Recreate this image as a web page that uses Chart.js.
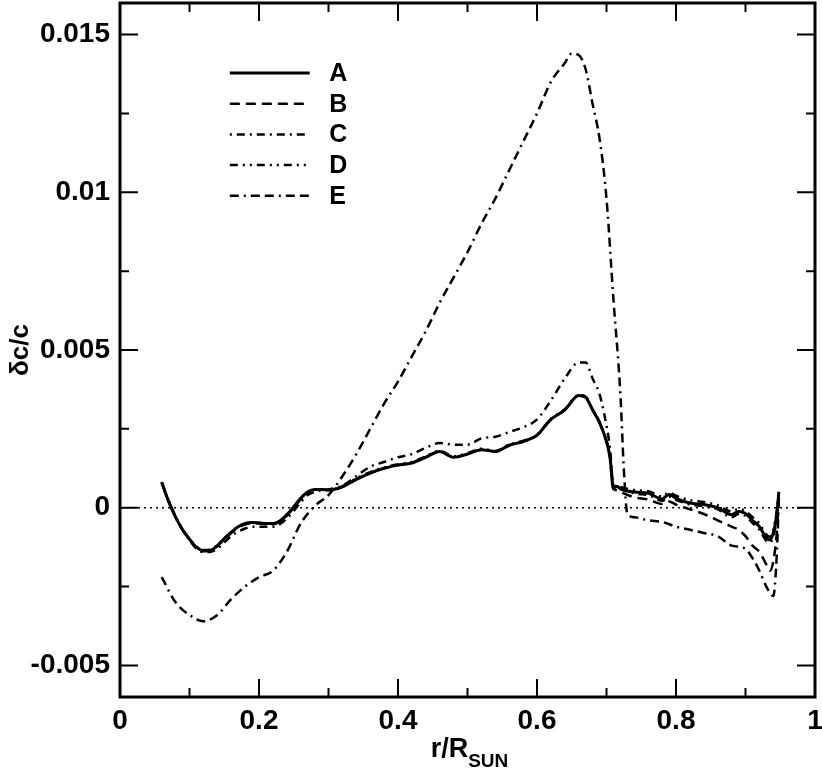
<!DOCTYPE html>
<html>
<head>
<meta charset="utf-8">
<script src="https://cdn.jsdelivr.net/npm/chart.js@4.4.1/dist/chart.umd.min.js"></script>
<style>
  html, body { margin: 0; padding: 0; background: #fff; }
</style>
</head>
<body>
<canvas id="myChart" width="822" height="773"></canvas>
<script>
// radius grid shared by curves A-D
var rAD = [0.06, 0.07, 0.08, 0.09, 0.10, 0.11, 0.12, 0.13, 0.14, 0.15, 0.16, 0.17, 0.18, 0.19, 0.20,
           0.21, 0.22, 0.23, 0.24, 0.25, 0.26, 0.27, 0.28, 0.29, 0.30, 0.32, 0.34, 0.36, 0.38, 0.40,
           0.42, 0.44, 0.46, 0.48, 0.50, 0.52, 0.54, 0.56, 0.58, 0.60, 0.62, 0.64, 0.66, 0.67, 0.68,
           0.69, 0.70, 0.705, 0.71, 0.715, 0.72, 0.74, 0.76, 0.78, 0.79, 0.80, 0.82, 0.84, 0.86, 0.88,
           0.89, 0.90, 0.91, 0.92, 0.93, 0.935, 0.94, 0.945, 0.948];

var seriesA = [0.0008, 0.0002, -0.0003, -0.0007, -0.001, -0.00125, -0.00136, -0.00135, -0.0012, -0.00098,
               -0.00078, -0.0006, -0.0005, -0.00047, -0.00048, -0.0005, -0.0005, -0.00042, -0.00022, 0.00003,
               0.0003, 0.0005, 0.00058, 0.00058, 0.00056, 0.00066, 0.0009, 0.0011, 0.00125, 0.00135,
               0.00142, 0.0016, 0.00178, 0.0016, 0.0017, 0.00184, 0.00178, 0.00198, 0.0021, 0.0023,
               0.0028, 0.0031, 0.00356, 0.0035, 0.0031, 0.0027, 0.0021, 0.0016, 0.0006, 0.00068,
               0.0006, 0.0005, 0.00046, 0.00028, 0.00042, 0.0003, 0.00015, 0.0001, 0.0, -0.00022,
               -0.00012, -0.00018, -0.0004, -0.0006, -0.00095, -0.00102, -0.0008, -0.0002, 0.0005];

var seriesB = [0.0008, 0.0002, -0.0003, -0.0007, -0.001, -0.00127, -0.00138, -0.00136, -0.00122, -0.001,
               -0.0008, -0.00063, -0.00053, -0.0005, -0.0005, -0.00052, -0.00052, -0.00044, -0.00025, 0.0,
               0.00027, 0.00048, 0.00057, 0.00058, 0.00056, 0.00066, 0.0009, 0.0011, 0.00125, 0.00135,
               0.00143, 0.00161, 0.00178, 0.00161, 0.0017, 0.00184, 0.00179, 0.00198, 0.0021, 0.0023,
               0.0028, 0.0031, 0.00355, 0.0035, 0.0031, 0.0027, 0.0021, 0.0016, 0.0006, 0.00055,
               0.0005, 0.00033, 0.00026, 0.00012, 0.0002, 0.0001, -0.00005, -0.0002, -0.0004, -0.0006,
               -0.0007, -0.0009, -0.0012, -0.0014, -0.0018, -0.002, -0.0017, -0.0008, 0.0003];

var seriesC = [0.0008, 0.0002, -0.0003, -0.0007, -0.00102, -0.0013, -0.0014, -0.0014, -0.0013, -0.0011,
               -0.0009, -0.00076, -0.00066, -0.0006, -0.0006, -0.0006, -0.0006, -0.00052, -0.00034, -0.0001,
               0.00018, 0.0004, 0.0005, 0.00055, 0.00058, 0.0007, 0.001, 0.0013, 0.00145, 0.0016,
               0.0017, 0.0019, 0.00205, 0.002, 0.002, 0.0022, 0.00225, 0.0024, 0.00255, 0.0028,
               0.0034, 0.0041, 0.0046, 0.0046, 0.0041, 0.0036, 0.0026, 0.0019, 0.0007, 0.0007,
               0.00062, 0.00045, 0.0004, 0.00022, 0.00035, 0.00025, 0.0001, 0.00005, -0.00005, -0.0003,
               -0.0002, -0.00026, -0.00048, -0.0007, -0.00105, -0.0011, -0.0009, -0.0003, 0.0005];

var seriesD = [0.00082, 0.00022, -0.00028, -0.00068, -0.00098, -0.00123, -0.00134, -0.00133, -0.00118, -0.00097,
               -0.00077, -0.0006, -0.0005, -0.00047, -0.00048, -0.0005, -0.0005, -0.00042, -0.00022, 0.00003,
               0.0003, 0.0005, 0.00058, 0.00058, 0.00057, 0.00068, 0.00093, 0.00113, 0.00128, 0.00138,
               0.00145, 0.00163, 0.0018, 0.00163, 0.00173, 0.00187, 0.0018, 0.002, 0.00212, 0.00232,
               0.00282, 0.00312, 0.00357, 0.00352, 0.00312, 0.00272, 0.00212, 0.00162, 0.00065, 0.00072,
               0.00066, 0.00056, 0.00052, 0.00036, 0.00048, 0.00038, 0.00024, 0.00018, 0.00008, -0.00012,
               -0.00004, -0.0001, -0.0003, -0.0005, -0.00085, -0.00092, -0.0007, -0.0001, 0.0005];

// curve E has its own radius grid
var rE = [0.06, 0.08, 0.10, 0.12, 0.14, 0.16, 0.18, 0.20, 0.22, 0.24, 0.26, 0.28, 0.30, 0.32, 0.34,
          0.36, 0.38, 0.40, 0.42, 0.44, 0.46, 0.48, 0.50, 0.52, 0.54, 0.56, 0.58, 0.60, 0.62, 0.64,
          0.65, 0.66, 0.67, 0.68, 0.69, 0.70, 0.71, 0.72, 0.725, 0.73, 0.74, 0.76, 0.78, 0.80, 0.82,
          0.84, 0.86, 0.88, 0.90, 0.91, 0.92, 0.93, 0.94, 0.945, 0.948];

var seriesE = [-0.0022, -0.003, -0.0034, -0.0036, -0.0034, -0.0029, -0.0025, -0.0022, -0.002, -0.0014,
               -0.0005, 0.00005, 0.0004, 0.001, 0.0017, 0.0025, 0.0033, 0.004, 0.0048, 0.0056,
               0.0065, 0.0073, 0.0081, 0.009, 0.0098, 0.0107, 0.0116, 0.0125, 0.0135, 0.0141,
               0.0144, 0.01435, 0.0139, 0.0128, 0.0117, 0.0098, 0.0066, 0.0036, 0.0012, -0.0002,
               -0.0003, -0.0004, -0.00045, -0.0006, -0.0007, -0.0008, -0.0009, -0.0012, -0.0013, -0.0016,
               -0.002, -0.0025, -0.0028, -0.0015, 0.0003];

var seriesNames = ['A', 'B', 'C', 'D', 'E'];
var xTicks = [0, 0.2, 0.4, 0.6, 0.8, 1];
var xMinor = [0.1, 0.3, 0.5, 0.7, 0.9];
var yTicks = [-0.005, 0, 0.005, 0.01, 0.015];
var yMinor = [-0.0025, 0.0025, 0.0075, 0.0125];

var FONT = '"Liberation Sans", Arial, sans-serif';

function toPoints(xs, ys) {
    return xs.map(function(x, i) { return { x: x, y: ys[i] }; });
}

function curve(label, xs, ys, dash, width) {
    return {
        label: label,
        data: toPoints(xs, ys),
        borderColor: '#000',
        borderWidth: width,
        borderDash: dash,
        pointRadius: 0,
        fill: false,
        cubicInterpolationMode: 'monotone'
    };
}

var datasets = [
    curve(seriesNames[0], rAD, seriesA, [], 3),
    curve(seriesNames[1], rAD, seriesB, [10, 6], 2.5),
    curve(seriesNames[2], rAD, seriesC, [2, 5, 8, 5], 2.5),
    curve(seriesNames[3], rAD, seriesD, [8, 5, 2, 5, 2, 5], 2.5),
    curve(seriesNames[4], rE, seriesE, [9, 5, 2, 5, 9, 5], 2.5),
    // dotted zero reference line
    {
        label: 'zero',
        data: [{ x: 0, y: 0 }, { x: 1, y: 0 }],
        borderColor: '#000',
        borderWidth: 1.5,
        borderDash: [2, 4],
        pointRadius: 0,
        fill: false
    }
];

// frame with inward ticks, legend and the x title with subscript
var framePlugin = {
    id: 'frame',
    afterDatasetsDraw: function(chart) {
        var ctx = chart.ctx, a = chart.chartArea;
        var xs = chart.scales.x, ys = chart.scales.y;
        ctx.save();
        ctx.strokeStyle = '#000';
        ctx.lineWidth = 2;
        ctx.setLineDash([]);
        function tickX(v, len) {
            var px = xs.getPixelForValue(v);
            ctx.beginPath();
            ctx.moveTo(px, a.bottom); ctx.lineTo(px, a.bottom - len);
            ctx.moveTo(px, a.top); ctx.lineTo(px, a.top + len);
            ctx.stroke();
        }
        function tickY(v, len) {
            var py = ys.getPixelForValue(v);
            ctx.beginPath();
            ctx.moveTo(a.left, py); ctx.lineTo(a.left + len, py);
            ctx.moveTo(a.right, py); ctx.lineTo(a.right - len, py);
            ctx.stroke();
        }
        xTicks.forEach(function(v) { tickX(v, 18); });
        xMinor.forEach(function(v) { tickX(v, 9); });
        yTicks.forEach(function(v) { tickY(v, 18); });
        yMinor.forEach(function(v) { tickY(v, 9); });
        ctx.lineWidth = 3;
        ctx.strokeRect(a.left, a.top, a.right - a.left, a.bottom - a.top);
        ctx.restore();
    },
    afterDraw: function(chart) {
        var ctx = chart.ctx, a = chart.chartArea;
        var xs = chart.scales.x;
        ctx.save();
        // legend
        var x0 = xs.getPixelForValue(0.158), x1 = xs.getPixelForValue(0.273), xt = xs.getPixelForValue(0.301);
        ctx.font = 'bold 25px ' + FONT;
        ctx.textBaseline = 'middle';
        ctx.fillStyle = '#000';
        for (var i = 0; i < 5; i++) {
            var ds = chart.data.datasets[i];
            var y = a.top + 70 + i * 30.7;
            ctx.strokeStyle = '#000';
            ctx.lineWidth = ds.borderWidth;
            ctx.setLineDash(ds.borderDash);
            ctx.beginPath();
            ctx.moveTo(x0, y); ctx.lineTo(x1, y);
            ctx.stroke();
            ctx.fillText(ds.label, xt, y + 1);
        }
        // x axis title r/R_SUN
        ctx.setLineDash([]);
        ctx.textBaseline = 'alphabetic';
        var big = 'bold 27px ' + FONT, small = 'bold 19px ' + FONT;
        ctx.font = big;
        var w1 = ctx.measureText('r/R').width;
        ctx.font = small;
        var w2 = ctx.measureText('SUN').width;
        var cx = (a.left + a.right) / 2 + 2;
        var start = cx - (w1 + w2) / 2;
        ctx.font = big;
        ctx.fillText('r/R', start, 757);
        ctx.font = small;
        ctx.fillText('SUN', start + w1, 767);
        ctx.restore();
    }
};

var ctx = document.getElementById('myChart').getContext('2d');
var myChart = new Chart(ctx, {
    type: 'line',
    data: { datasets: datasets },
    options: {
        responsive: false,
        animation: false,
        devicePixelRatio: 1,
        layout: { padding: { top: 3, right: 7, left: 0, bottom: 0 } },
        plugins: {
            legend: { display: false },
            tooltip: { enabled: false }
        },
        scales: {
            x: {
                type: 'linear',
                min: 0,
                max: 1,
                grid: { display: false, drawTicks: false },
                border: { display: false },
                afterFit: function(s) { s.height = 76; s.paddingLeft = 0; s.paddingRight = 0; },
                afterBuildTicks: function(s) { s.ticks = xTicks.map(function(v) { return { value: v }; }); },
                ticks: {
                    padding: 7,
                    color: '#000',
                    maxRotation: 0,
                    font: { family: FONT, size: 28, weight: 'bold' },
                    callback: function(v) { return String(v); }
                }
            },
            y: {
                type: 'linear',
                min: -0.006,
                max: 0.016,
                grid: { display: false, drawTicks: false },
                border: { display: false },
                afterFit: function(s) { s.width = 120; s.paddingTop = 0; s.paddingBottom = 0; },
                afterBuildTicks: function(s) { s.ticks = yTicks.map(function(v) { return { value: v }; }); },
                ticks: {
                    padding: 10,
                    color: '#000',
                    font: { family: FONT, size: 28, weight: 'bold' },
                    callback: function(v) { return String(v); }
                },
                title: {
                    display: true,
                    text: 'δc/c',
                    color: '#000',
                    padding: { top: 5, bottom: 0 },
                    font: { family: FONT, size: 26, weight: 'bold' }
                }
            }
        }
    },
    plugins: [framePlugin]
});
</script>
</body>
</html>
